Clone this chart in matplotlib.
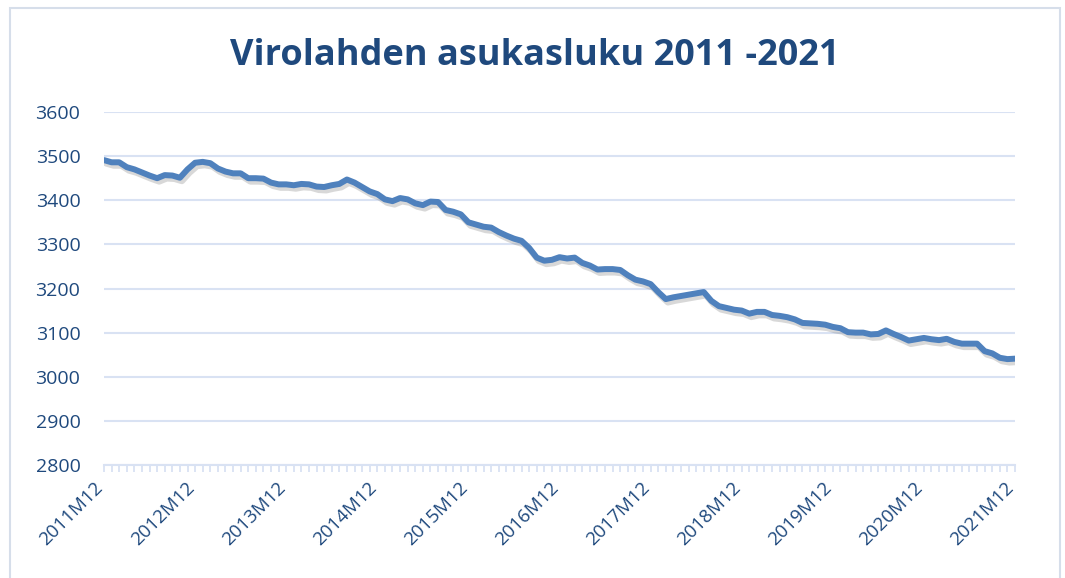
import matplotlib
matplotlib.use("Agg")
import matplotlib.pyplot as plt
import matplotlib.patches as patches
import matplotlib.patheffects as pe
from matplotlib.ticker import FixedLocator, MultipleLocator
from matplotlib.transforms import ScaledTranslation

# ---- data (monthly population, 2011M12 .. 2021M12) ----
years = list(range(2011, 2022))
tick_labels = [f"{y}M12" for y in years]
population = [
    3491, 3486, 3486, 3475, 3470, 3463, 3456, 3450, 3457, 3456, 3451, 3470,  # 2011M12-2012M11
    3485, 3487, 3484, 3472, 3465, 3461, 3461, 3450, 3450, 3449, 3440, 3436,  # 2012M12-2013M11
    3436, 3434, 3437, 3436, 3431, 3430, 3434, 3437, 3447, 3440, 3430, 3420,  # 2013M12-2014M11
    3414, 3402, 3398, 3405, 3402, 3393, 3389, 3397, 3396, 3378, 3374, 3368,  # 2014M12-2015M11
    3350, 3345, 3340, 3338, 3328, 3320, 3313, 3308, 3292, 3270, 3263, 3265,  # 2015M12-2016M11
    3271, 3268, 3270, 3258, 3252, 3243, 3244, 3244, 3242, 3230, 3220, 3216,  # 2016M12-2017M11
    3210, 3192, 3176, 3180, 3183, 3186, 3189, 3192, 3172, 3160, 3156, 3152,  # 2017M12-2018M11
    3150, 3143, 3147, 3147, 3140, 3138, 3135, 3130, 3122, 3121, 3120, 3118,  # 2018M12-2019M11
    3113, 3110, 3101, 3100, 3100, 3096, 3097, 3105, 3097, 3090, 3082, 3085,  # 2019M12-2020M11
    3088, 3085, 3083, 3086, 3079, 3075, 3075, 3075, 3058, 3053, 3043, 3040,  # 2020M12-2021M11
    3041,                                                                    # 2021M12
]
y_ticks = [2800, 2900, 3000, 3100, 3200, 3300, 3400, 3500, 3600]
title = "Virolahden asukasluku 2011 -2021"

TEXT = "#1F497D"
GRID = "#D9E2F3"
LINE = "#4F81BD"

plt.rcParams["font.family"] = ["Open Sans", "DejaVu Sans"]

W, H = 1065, 578
fig = plt.figure(figsize=(W / 100, H / 100), dpi=100)
fig.patch.set_facecolor("white")

# outer chart border
fig.patches.append(patches.Rectangle((10 / W, -0.02), 1050 / W, 1 - 8 / H + 0.02,
                                     transform=fig.transFigure, fill=False,
                                     edgecolor="#D6DEEA", linewidth=1.5))

ax = fig.add_axes([104 / W, 1 - 465 / H, (1015 - 104) / W, (465 - 112) / H])

x = list(range(len(population)))
ax.plot(x, population, color=LINE, linewidth=4.3, solid_joinstyle="round",
        solid_capstyle="round", zorder=3,
        path_effects=[pe.SimpleLineShadow(offset=(1.5, -2.5), shadow_color="#7f7f7f", alpha=0.3),
                      pe.Normal()])

ax.set_xlim(0, len(population) - 1)
ax.set_ylim(2800, 3600)
ax.set_yticks(y_ticks)
ax.set_yticklabels([str(v) for v in y_ticks], color=TEXT, fontsize=14)
ax.tick_params(axis="y", length=0, pad=17)

ax.xaxis.set_major_locator(FixedLocator([12 * i for i in range(len(years))]))
ax.set_xticklabels(tick_labels, rotation=45, ha="right", va="top", rotation_mode="anchor",
                   color=TEXT, fontsize=13.5)
ax.xaxis.set_minor_locator(MultipleLocator(1))
ax.tick_params(axis="x", which="both", length=5, width=1.3, color=GRID, pad=5)
offset = ScaledTranslation(-10 / 100, 0, fig.dpi_scale_trans)
for lbl in ax.get_xticklabels():
    lbl.set_transform(lbl.get_transform() + offset)

ax.grid(axis="y", color=GRID, linewidth=1.5)
ax.set_axisbelow(True)
for s in ["top", "right", "left"]:
    ax.spines[s].set_visible(False)
ax.spines["bottom"].set_color(GRID)
ax.spines["bottom"].set_linewidth(1.5)

fig.text(535 / W, 1 - 56 / H, title, ha="center", va="center",
         fontsize=26, fontweight="bold", color=TEXT)

fig.savefig("out.png", dpi=100)
